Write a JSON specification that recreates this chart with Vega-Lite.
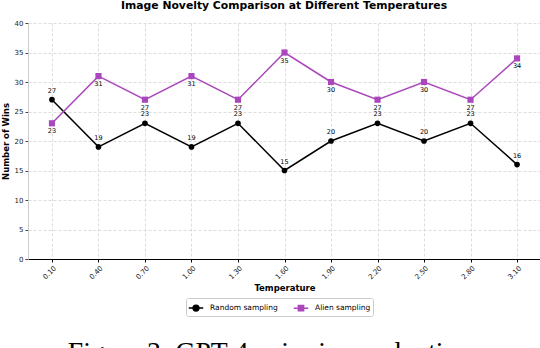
{
  "$schema": "https://vega.github.io/schema/vega-lite/v6.json",
  "autosize": {"type": "pad"},
  "padding": {"left": 1, "top": 0, "right": 0, "bottom": 0},
  "background": "white",
  "title": {
    "text": "Image Novelty Comparison at Different Temperatures",
    "font": "DejaVu Sans",
    "fontSize": 10.8,
    "fontWeight": "bold",
    "color": "#000000",
    "anchor": "middle",
    "dx": 13,
    "offset": 8
  },
  "config": {
    "view": {"stroke": null},
    "font": "DejaVu Sans",
    "concat": {"spacing": 0}
  },
  "vconcat": [
    {
      "width": 513,
      "height": 236,
      "title": {
        "text": "Figure 3: GPT-4 pairwise evaluation",
        "orient": "bottom",
        "font": "Liberation Serif",
        "fontSize": 27.7,
        "fontWeight": "normal",
        "color": "#000000",
        "anchor": "middle",
        "dx": -15,
        "offset": 47
      },
      "data": {
        "values": [
          {"temp": "0.10", "method": "Random sampling", "wins": 27},
          {"temp": "0.40", "method": "Random sampling", "wins": 19},
          {"temp": "0.70", "method": "Random sampling", "wins": 23},
          {"temp": "1.00", "method": "Random sampling", "wins": 19},
          {"temp": "1.30", "method": "Random sampling", "wins": 23},
          {"temp": "1.60", "method": "Random sampling", "wins": 15},
          {"temp": "1.90", "method": "Random sampling", "wins": 20},
          {"temp": "2.20", "method": "Random sampling", "wins": 23},
          {"temp": "2.50", "method": "Random sampling", "wins": 20},
          {"temp": "2.80", "method": "Random sampling", "wins": 23},
          {"temp": "3.10", "method": "Random sampling", "wins": 16},
          {"temp": "0.10", "method": "Alien sampling", "wins": 23},
          {"temp": "0.40", "method": "Alien sampling", "wins": 31},
          {"temp": "0.70", "method": "Alien sampling", "wins": 27},
          {"temp": "1.00", "method": "Alien sampling", "wins": 31},
          {"temp": "1.30", "method": "Alien sampling", "wins": 27},
          {"temp": "1.60", "method": "Alien sampling", "wins": 35},
          {"temp": "1.90", "method": "Alien sampling", "wins": 30},
          {"temp": "2.20", "method": "Alien sampling", "wins": 27},
          {"temp": "2.50", "method": "Alien sampling", "wins": 30},
          {"temp": "2.80", "method": "Alien sampling", "wins": 27},
          {"temp": "3.10", "method": "Alien sampling", "wins": 34}
        ]
      },
      "encoding": {
        "x": {
          "field": "temp",
          "type": "ordinal",
          "sort": null,
          "scale": {"type": "point", "padding": 0.515},
          "axis": {
            "title": "Temperature",
            "titleFont": "DejaVu Sans",
            "titleFontSize": 8.5,
            "titleFontWeight": "bold",
            "titleColor": "#000000",
            "titlePadding": 4,
            "labelAngle": -45,
            "labelFontSize": 7,
            "labelColor": "#222222",
            "labelPadding": 2,
            "tickSize": 3,
            "tickColor": "#000000",
            "domainColor": "#000000",
            "domainWidth": 1.2,
            "grid": true,
            "gridColor": "#d4d4d4",
            "gridDash": [3, 2],
            "gridWidth": 0.8
          }
        },
        "y": {
          "field": "wins",
          "type": "quantitative",
          "scale": {"domain": [0, 40], "nice": false, "zero": true},
          "axis": {
            "title": "Number of Wins",
            "titleFont": "DejaVu Sans",
            "titleFontSize": 8.5,
            "titleFontWeight": "bold",
            "titleColor": "#000000",
            "titlePadding": 4,
            "values": [0, 5, 10, 15, 20, 25, 30, 35, 40],
            "labelFontSize": 7,
            "labelColor": "#222222",
            "labelPadding": 2,
            "tickSize": 3,
            "tickColor": "#444444",
            "domainColor": "#cccccc",
            "grid": true,
            "gridColor": "#d4d4d4",
            "gridDash": [3, 2],
            "gridWidth": 0.8
          }
        }
      },
      "layer": [
        {
          "mark": {"type": "line", "strokeWidth": 1.5},
          "encoding": {
            "color": {
              "field": "method",
              "type": "nominal",
              "scale": {"domain": ["Random sampling", "Alien sampling"], "range": ["#000000", "#AB47BC"]},
              "legend": {
                "title": null,
                "orient": "none",
                "direction": "horizontal",
                "legendX": 158,
                "legendY": 275,
                "labelFont": "DejaVu Sans",
                "labelFontSize": 7.5,
                "labelColor": "#000000",
                "labelLimit": 200,
                "symbolType": "M-1,0H1M-0.38,0A0.38,0.38 0 1,1 0.38,0A0.38,0.38 0 1,1 -0.38,0Z",
                "symbolSize": 210,
                "symbolStrokeWidth": 1.5,
                "symbolFillColor": "#000000",
                "columnPadding": 12,
                "labelOffset": 6,
                "strokeColor": "#cccccc",
                "padding": 2,
                "cornerRadius": 2,
                "fillColor": "#ffffff",
                "encode": {
                  "symbols": {
                    "update": {
                      "shape": {"signal": "datum.value === 'Random sampling' ? 'M-1,0H1M-0.4,0A0.4,0.4 0 1,1 0.4,0A0.4,0.4 0 1,1 -0.4,0Z' : 'M-1,0H1M-0.36,-0.36H0.36V0.36H-0.36Z'"},
                      "fill": {"signal": "datum.value === 'Random sampling' ? '#000000' : '#AB47BC'"},
                      "stroke": {"signal": "datum.value === 'Random sampling' ? '#000000' : '#AB47BC'"},
                      "strokeWidth": {"value": 1.5},
                      "opacity": {"value": 1},
                      "fillOpacity": {"value": 1}
                    }
                  }
                }
              }
            }
          }
        },
        {
          "transform": [{"filter": "datum.method === 'Random sampling'"}],
          "mark": {"type": "point", "shape": "circle", "filled": true, "opacity": 1, "size": 32, "color": "#000000"}
        },
        {
          "transform": [{"filter": "datum.method === 'Alien sampling'"}],
          "mark": {"type": "point", "shape": "square", "filled": true, "opacity": 1, "size": 38, "color": "#AB47BC"}
        },
        {
          "transform": [{"filter": "datum.method === 'Random sampling'"}],
          "mark": {"type": "text", "dy": -9, "fontSize": 6.5, "fill": "#000000", "font": "DejaVu Sans"},
          "encoding": {"text": {"field": "wins", "type": "quantitative"}}
        },
        {
          "transform": [{"filter": "datum.method === 'Alien sampling'"}],
          "mark": {"type": "text", "dy": 8, "fontSize": 6.5, "fill": "#000000", "font": "DejaVu Sans"},
          "encoding": {"text": {"field": "wins", "type": "quantitative"}}
        }
      ]
    }
  ]
}
